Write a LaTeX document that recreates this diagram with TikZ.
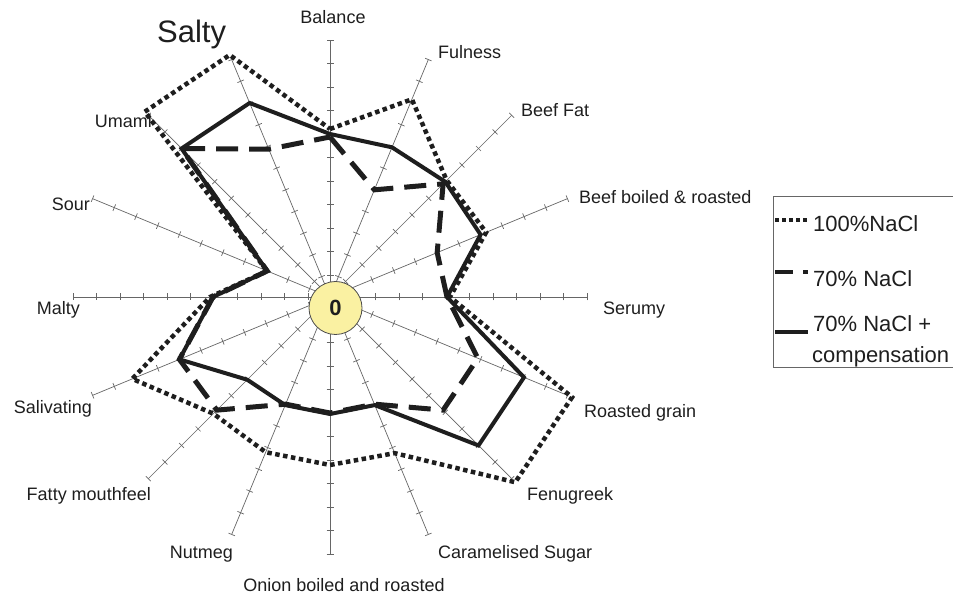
\documentclass[tikz,border=0pt]{standalone}
\usepackage{fontspec}
\setmainfont{Liberation Sans}
\definecolor{zerofill}{HTML}{FAF1A2}
\definecolor{ink}{HTML}{1E1E1E}
\begin{document}
\begin{tikzpicture}[x=1pt,y=1pt,
  axisline/.style={draw=black!60, line width=0.7pt},
  lbl/.style={font=\fontsize{18}{20}\selectfont, inner sep=0pt, text=ink},
  leglbl/.style={font=\fontsize{22}{24}\selectfont, inner sep=0pt, text=ink, anchor=base west},
  ser100/.style={draw=ink, line width=4.5pt, dash pattern=on 4.5pt off 3.5pt},
  ser70/.style={draw=ink, line width=5pt, dash pattern=on 22pt off 11pt},
  ser70c/.style={draw=ink, line width=4pt},
  legline/.style={draw=ink}
]
\useasboundingbox (0,0) rectangle (953,597);

\begin{scope}[shift={(330,300)}]
  % axes with tick marks
  \foreach \i in {0,...,15}{
    \pgfmathsetmacro{\a}{90-22.5*\i}
    \draw[axisline] (0,0) -- (\a:257);
    \foreach \k in {0,...,10}{
      \draw[axisline, rotate=\a] ({22+23.5*\k},-3.5) -- ++(0,7);
    }
  }
\end{scope}

% centre disc
\node[circle, draw=black!70, line width=0.8pt, fill=zerofill, minimum size=53pt, inner sep=0pt,
      font=\fontsize{22}{24}\selectfont\bfseries, text=ink] (zero) at (335.5,289) {0};

\begin{scope}[shift={(330,300)}]
  % 100% NaCl
  \foreach \r [count=\i from 0] in {168,214,165,169,120,262,262,169,168,168,165,214,120,68,262,262}{
    \coordinate (a\i) at ({90-22.5*\i}:\r);
  }
  % 70% NaCl
  \foreach \r [count=\i from 0] in {160,116,160,116,117,160,160,116,116,116,160,163,117,68,210,160}{
    \coordinate (b\i) at ({90-22.5*\i}:\r);
  }
  % 70% NaCl + compensation
  \foreach \r [count=\i from 0] in {163,162,163,163,117,210,210,117,117,117,117,163,117,68,210,210}{
    \coordinate (c\i) at ({90-22.5*\i}:\r);
  }
  \draw[ser100] (a0) \foreach \i in {1,...,15}{ -- (a\i)} -- cycle;
  \draw[ser70] (b0) \foreach \i in {1,...,15}{ -- (b\i)} -- cycle;
  \draw[ser70c] (c0) \foreach \i in {1,...,15}{ -- (c\i)} -- cycle;
\end{scope}

% axis labels
\node[lbl, anchor=base] (lBalance) at (333,573.5) {Balance};
\node[lbl, anchor=base west] (lFulness) at (438,538.5) {Fulness};
\node[lbl, anchor=base west] (lBeefFat) at (521,480.5) {Beef Fat};
\node[lbl, anchor=base west] (lBeefBoiled) at (579,393.5) {Beef boiled \& roasted};
\node[lbl, anchor=base west] (lSerumy) at (603,282.5) {Serumy};
\node[lbl, anchor=base west] (lRoasted) at (584,179.5) {Roasted grain};
\node[lbl, anchor=base west] (lFenugreek) at (527,96.5) {Fenugreek};
\node[lbl, anchor=base west] (lCaramel) at (438,38.5) {Caramelised Sugar};
\node[lbl, anchor=base] (lOnion) at (344,5.5) {Onion boiled and roasted};
\node[lbl, anchor=base east] (lNutmeg) at (233,38.5) {Nutmeg};
\node[lbl, anchor=base east] (lFatty) at (151,96.5) {Fatty mouthfeel};
\node[lbl, anchor=base east] (lSalivating) at (92,183.5) {Salivating};
\node[lbl, anchor=base east] (lMalty) at (80,282.5) {Malty};
\node[lbl, anchor=base east] (lSour) at (90,386.5) {Sour};
\node[lbl, anchor=base east] (lUmami) at (152,469.5) {Umami};
\node[lbl, anchor=base west, font=\fontsize{31}{33}\selectfont] (lSalty) at (157,554) {Salty};

% legend
\draw[black!60, line width=0.8pt] (773,230) rectangle (965,401);
\coordinate (s1a) at (775,377); \coordinate (s1b) at (808,377);
\coordinate (s2a) at (775,325); \coordinate (s2b) at (808,325);
\coordinate (s3a) at (775,265); \coordinate (s3b) at (808,265);
\draw[legline, line width=4pt, dash pattern=on 4pt off 3pt] (s1a) -- (s1b);
\draw[legline, line width=4.5pt, dash pattern=on 18pt off 10pt] (s2a) -- (s2b);
\draw[legline, line width=4.5pt] (s3a) -- (s3b);
\node[leglbl] (leg1) at (813,365) {100\%NaCl};
\node[leglbl] (leg2) at (813,310) {70\% NaCl};
\node[leglbl] (leg3) at (813,265) {70\% NaCl +};
\node[leglbl] (leg4) at (812,234) {compensation};
\end{tikzpicture}
\end{document}
